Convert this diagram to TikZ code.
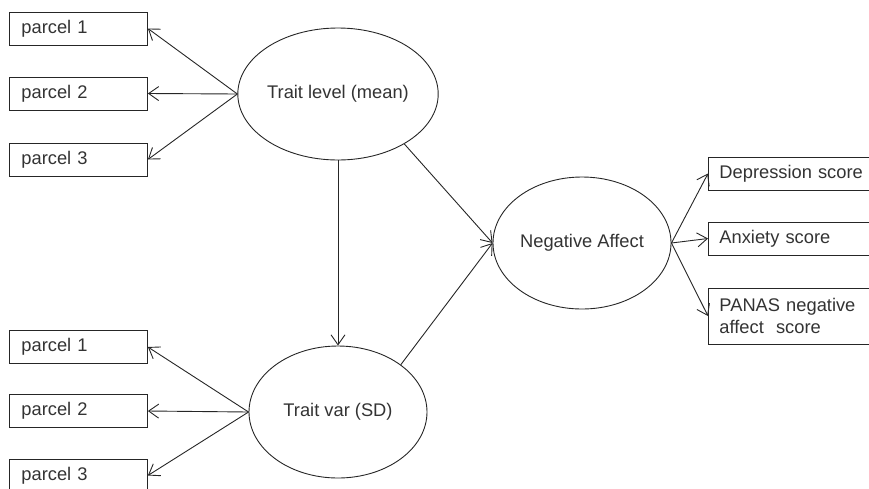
\documentclass[tikz,border=0pt]{standalone}
\usepackage{fontspec}
\setmainfont{Liberation Sans}
\usepackage{tikz}
\usetikzlibrary{shapes,arrows.meta,positioning,calc}

\begin{document}
\begin{tikzpicture}[
            x=1pt, y=-1pt,
            font=\fontsize{18.3}{21.5}\selectfont,
            box/.style={draw=black!85, line width=0.9pt, rectangle, anchor=west, minimum height=33pt, inner ysep=0pt, align=left, text=black!80},
            parcel/.style={box, inner xsep=12pt, text width=114pt},
            indicator/.style={box, inner xsep=11pt, text width=155pt},
            latent/.style={draw=black!85, line width=0.9pt, ellipse, minimum width=178pt, minimum height=132pt, inner sep=0pt, text=black!80},
            arrow/.style={-{Straight Barb[length=10pt,width=14pt]}, line width=0.9pt, draw=black!85}
        ]
            \clip (0,0) rectangle (869,488);

            % Latent factors
            \node[latent] (level) at (338,94) {Trait level (mean)};
            \node[latent] (var) at (338,412) {Trait var (SD)};
            \node[latent] (neg) at (582,243) {Negative Affect};

            % Parcels
            \node[parcel] (lp1) at (9,28.5) {parcel 1};
            \node[parcel] (lp2) at (9,93.5) {parcel 2};
            \node[parcel] (lp3) at (9,159.5) {parcel 3};
            \node[parcel] (vp1) at (9,347) {parcel 1};
            \node[parcel] (vp2) at (9,411) {parcel 2};
            \node[parcel] (vp3) at (9,475.5) {parcel 3};

            % Scores
            \node[indicator] (dep) at (708,173.5) {Depression score};
            \node[indicator] (anx) at (708,238.5) {Anxiety score};
            \node[indicator, minimum height=56pt] (panas) at (708,316) {PANAS negative\\affect\ \ score};

            \draw[arrow] (level.west) -- (lp1.east);
            \draw[arrow] (level.west) -- (lp2.east);
            \draw[arrow] (level.west) -- (lp3.east);
            \draw[arrow] (var.west) -- (vp1.east);
            \draw[arrow] (var.west) -- (vp2.east);
            \draw[arrow] (var.west) -- (vp3.east);

            \draw[arrow] (level.south) -- (var.north);
            \draw[arrow] (level.-37) -- (neg.west);
            \draw[arrow] (var.37) -- (neg.west);

            \draw[arrow] (neg.east) -- (dep.west);
            \draw[arrow] (neg.east) -- (anx.west);
            \draw[arrow] (neg.east) -- (panas.west);
        \end{tikzpicture}
\end{document}
